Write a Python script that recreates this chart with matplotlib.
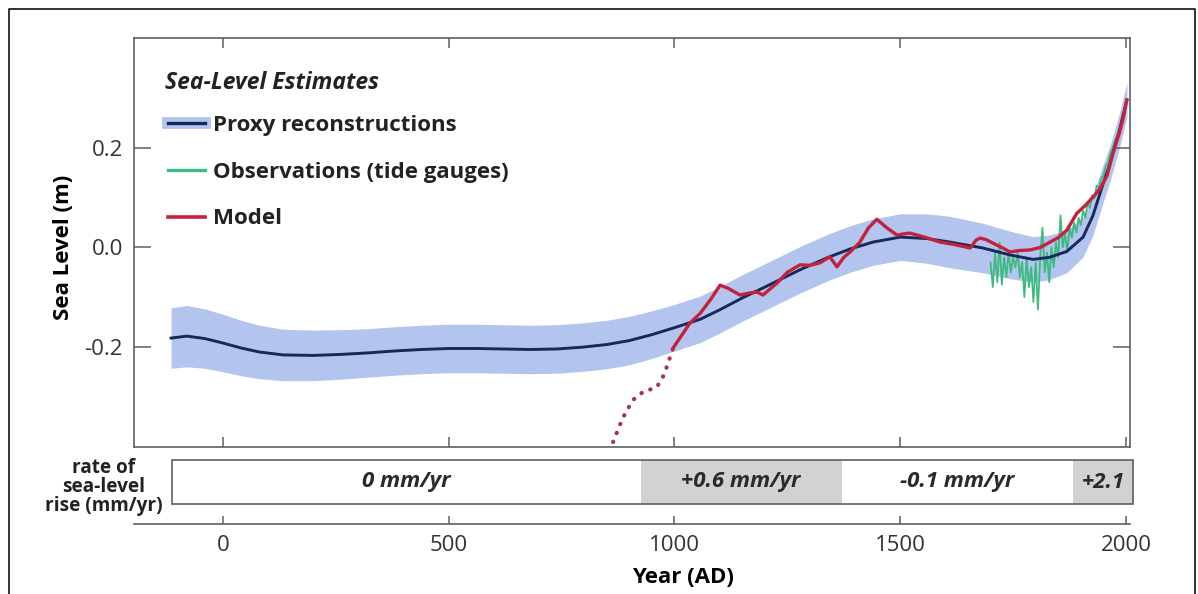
import matplotlib.pyplot as plt
from matplotlib.lines import Line2D
from matplotlib.patches import Rectangle
from matplotlib.legend_handler import HandlerTuple

plt.rcParams['font.family'] = ['Open Sans', 'DejaVu Sans']
plt.rcParams['text.color'] = '#222222'

# Proxy reconstruction (central estimate and half-width of the uncertainty band)
proxy_years = [-115, -80, -40, 0, 40, 80, 133, 200, 260, 320, 380, 440, 500, 560,
               620, 680, 740, 800, 850, 900, 950, 1000, 1057, 1100, 1150, 1200,
               1278, 1340, 1389, 1440, 1500, 1560, 1610, 1683, 1743, 1794, 1830,
               1869, 1905, 1927, 1949, 1965, 1985, 2002]
proxy_level = [-0.183, -0.179, -0.184, -0.193, -0.203, -0.211, -0.217, -0.218,
               -0.216, -0.213, -0.209, -0.206, -0.204, -0.204, -0.205, -0.206,
               -0.205, -0.201, -0.196, -0.188, -0.176, -0.162, -0.145, -0.126,
               -0.102, -0.080, -0.045, -0.020, -0.003, 0.011, 0.021, 0.018,
               0.011, -0.001, -0.015, -0.024, -0.020, -0.008, 0.021, 0.065,
               0.128, 0.171, 0.235, 0.298]
proxy_half = [0.061, 0.062, 0.060, 0.058, 0.056, 0.054, 0.052, 0.051, 0.050,
              0.049, 0.049, 0.049, 0.049, 0.049, 0.049, 0.049, 0.049, 0.049,
              0.049, 0.049, 0.048, 0.047, 0.047, 0.047, 0.047, 0.047, 0.047,
              0.047, 0.047, 0.047, 0.047, 0.050, 0.052, 0.050, 0.048, 0.046,
              0.045, 0.043, 0.040, 0.040, 0.038, 0.036, 0.035, 0.035]

# Tide gauge observations
obs_years = list(range(1700, 1985, 5))
obs_level = [-0.03, -0.08, -0.01, -0.07, 0.01, -0.075, -0.02, -0.06, -0.01, -0.05,
             -0.02, -0.04, -0.01, -0.06, -0.03, -0.10, -0.02, -0.08, -0.04, -0.11,
             -0.03, -0.125, -0.02, 0.04, -0.05, -0.01, -0.07, 0.0, -0.04, 0.01,
             -0.02, 0.065, 0.0, 0.03, -0.01, 0.04, 0.02, 0.05, 0.03, 0.06,
             0.045, 0.075, 0.06, 0.09, 0.08, 0.105, 0.10, 0.125, 0.12, 0.14,
             0.145, 0.165, 0.17, 0.19, 0.20, 0.215, 0.225]

# Model: uncertain early part (dotted) and main run
model_early_years = [864, 885, 908, 930, 961, 975, 983, 997]
model_early_level = [-0.393, -0.345, -0.308, -0.292, -0.282, -0.260, -0.241, -0.203]
model_years = [997, 1034, 1057, 1080, 1101, 1120, 1145, 1165, 1183, 1196, 1210,
               1227, 1250, 1278, 1300, 1322, 1344, 1360, 1375, 1389, 1410, 1430,
               1448, 1470, 1493, 1510, 1522, 1550, 1588, 1620, 1655, 1668, 1677,
               1690, 1705, 1725, 1743, 1765, 1787, 1810, 1832, 1850, 1869, 1891,
               1910, 1927, 1942, 1958, 1971, 1985, 1993, 2002]
model_level = [-0.203, -0.153, -0.133, -0.105, -0.076, -0.083, -0.096, -0.092,
               -0.090, -0.096, -0.085, -0.072, -0.050, -0.035, -0.036, -0.031,
               -0.019, -0.039, -0.020, -0.009, 0.010, 0.040, 0.057, 0.040, 0.025,
               0.028, 0.029, 0.022, 0.011, 0.006, -0.001, 0.015, 0.019, 0.016,
               0.009, 0.000, -0.009, -0.006, -0.005, 0.000, 0.011, 0.020, 0.035,
               0.069, 0.085, 0.102, 0.118, 0.145, 0.190, 0.230, 0.258, 0.298]

# Rate of sea-level rise periods
rate_edges = [-113, 925, 1370, 1883, 2015]
rate_labels = ['0 mm/yr', '+0.6 mm/yr', '-0.1 mm/yr', '+2.1']
rate_shaded = [False, True, False, True]

year_ticks = [0, 500, 1000, 1500, 2000]
level_ticks = [-0.2, 0.0, 0.2]

band_color = '#b3c4ef'
navy = '#15295a'
red = '#c4213d'
green = '#3dbb7e'
spine_color = '#5f5f5f'

W, H = 1198, 594
fig = plt.figure(figsize=(W / 100, H / 100), dpi=100)

ax = fig.add_axes([134 / W, 1 - 447 / H, 996 / W, 409 / H])
ax.set_xlim(-197.1, 2008.9)
ax.set_ylim(-0.403, 0.4232)

lo = [c - h for c, h in zip(proxy_level, proxy_half)]
hi = [c + h for c, h in zip(proxy_level, proxy_half)]
ax.fill_between(proxy_years, lo, hi, color=band_color, lw=0, zorder=1)
ax.plot(obs_years, obs_level, color=green, lw=1.3, zorder=2)
ax.plot(proxy_years, proxy_level, color=navy, lw=2.1, zorder=3)
ax.plot(model_early_years, model_early_level, color='#a8354c', lw=3.0,
        linestyle=(0, (0.1, 2.2)), dash_capstyle='round', zorder=4)
ax.plot(model_years, model_level, color=red, lw=2.4, zorder=4)

ax.set_xticks(year_ticks)
ax.set_yticks(level_ticks)
ax.set_yticklabels(['-0.2', '0.0', '0.2'])
ax.tick_params(axis='x', direction='in', top=True, bottom=True, labelbottom=False,
               length=7, width=1.1, color=spine_color)
ax.tick_params(axis='y', direction='in', left=True, right=True, length=12, width=1.1,
               color=spine_color, labelsize=16, pad=8, labelcolor='#333333')
for s in ax.spines.values():
    s.set_color(spine_color)
    s.set_linewidth(1.2)

ax.set_ylabel('Sea Level (m)', fontsize=16, fontweight='bold', va='center')
ax.yaxis.set_label_coords(-0.071, 0.487)

# Legend: heading as plain text, entries below it
ax.text(0.031, 0.889, 'Sea-Level Estimates', transform=ax.transAxes, ha='left',
        va='center', fontsize=16.5, fontweight='bold', style='italic')
band_h = Line2D([], [], color=band_color, lw=8.5)
navy_h = Line2D([], [], color=navy, lw=2.4)
green_h = Line2D([], [], color=green, lw=2.4)
red_h = Line2D([], [], color=red, lw=2.6)
leg = ax.legend([(band_h, navy_h), green_h, red_h],
                ['Proxy reconstructions', 'Observations (tide gauges)', 'Model'],
                handler_map={tuple: HandlerTuple(ndivide=1)}, frameon=False,
                loc='upper left', bbox_to_anchor=(0.034, 0.812), borderaxespad=0,
                borderpad=0, prop={'weight': 'bold', 'size': 16},
                labelspacing=1.16, handlelength=1.67, handletextpad=0.38)

# Rate panel with its own year axis
rax = fig.add_axes([134 / W, 1 - 524 / H, 996 / W, 64 / H])
rax.set_xlim(ax.get_xlim())
rax.set_ylim(0, 1)
for side in ['top', 'left', 'right']:
    rax.spines[side].set_visible(False)
rax.spines['bottom'].set_color(spine_color)
rax.spines['bottom'].set_linewidth(1.2)
rax.set_yticks([])
rax.set_xticks(year_ticks)
rax.tick_params(axis='x', direction='in', length=6, width=1.1, color=spine_color,
                labelsize=16, pad=8, labelcolor='#333333')

tr = rax.get_xaxis_transform()
box_y0, box_h = 0.3125, 0.6875
for i, label in enumerate(rate_labels):
    x0, x1 = rate_edges[i], rate_edges[i + 1]
    if rate_shaded[i]:
        rax.add_patch(Rectangle((x0, box_y0), x1 - x0, box_h, transform=tr,
                                facecolor='#d1d2d4', edgecolor='none', clip_on=False))
    rax.text((x0 + x1) / 2, box_y0 + box_h / 2, label, transform=tr, ha='center',
             va='center', fontsize=16, fontweight='bold', style='italic', color='#2a2a2a')
rax.add_patch(Rectangle((rate_edges[0], box_y0), rate_edges[-1] - rate_edges[0], box_h,
                        transform=tr, facecolor='none', edgecolor=spine_color,
                        lw=1.2, clip_on=False))

rax.set_xlabel('Year (AD)', fontsize=16, fontweight='bold', va='center')
rax.xaxis.set_label_coords(0.551, -0.84)

fig.text(104 / W, 1 - 487 / H, 'rate of\nsea-level\nrise (mm/yr)', ha='center',
         va='center', fontsize=13.7, fontweight='bold', linespacing=0.95)

# Thin frame around the figure (open at the bottom)
fig.add_artist(Line2D([9 / W, 9 / W, 1195 / W, 1195 / W], [0, 1 - 9 / H, 1 - 9 / H, 0],
                      transform=fig.transFigure, color='#111111', lw=1.2))

fig.savefig('out.png', dpi=100)
